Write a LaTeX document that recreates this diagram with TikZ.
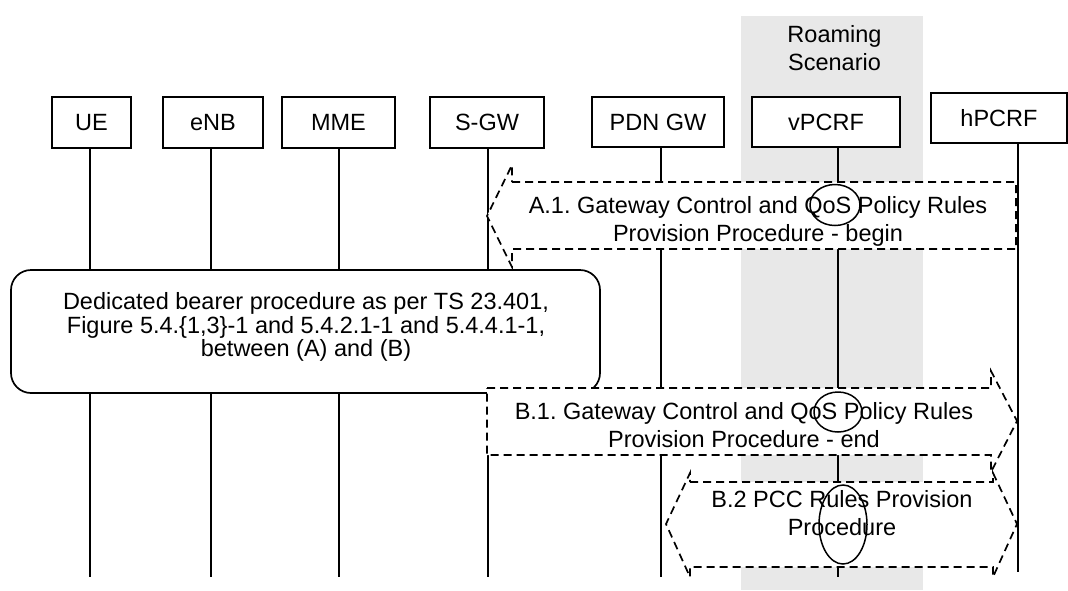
\documentclass[tikz,border=0pt]{standalone}
\usepackage{fontspec}
\setmainfont{Liberation Sans}
\usetikzlibrary{shapes.geometric}
\definecolor{bandgray}{RGB}{232,232,232}
\tikzset{
  ent/.style={draw, fill=white, line width=1.5pt, inner sep=0pt, outer sep=0pt, minimum height=51, font=\fontsize{23.5}{28}\selectfont},
  life/.style={line width=1.5pt},
  proc/.style={draw, fill=white, line width=1.7pt, dash pattern=on 8pt off 5pt, line join=miter},
  txt/.style={align=center, inner sep=0pt, font=\fontsize{23.5}{28}\selectfont},
  boxtxt/.style={align=center, inner sep=0pt, font=\fontsize{23.5}{23.5}\selectfont},
  ell/.style={draw, ellipse, line width=1.5pt, inner sep=0pt, outer sep=0pt},
  rbox/.style={draw, fill=white, line width=1.7pt, rounded corners=20pt, inner sep=0pt, outer sep=0pt}
}
\frenchspacing
\begin{document}
\begin{tikzpicture}[x=1pt,y=-1pt]
\useasboundingbox (0,0) rectangle (1068,590);
% roaming band
\fill[bandgray] (741,16) rectangle (923,590);
\node[txt] (roam) at (834.5,48) {Roaming\\Scenario};
% entities
\node[ent, minimum width=79] (ue) at (91.5,122.5) {UE};
\node[ent, minimum width=100] (enb) at (213,122.5) {eNB};
\node[ent, minimum width=113] (mme) at (338.5,122.5) {MME};
\node[ent, minimum width=114] (sgw) at (487,122.5) {S-GW};
\node[ent, minimum width=132, minimum height=50] (pgw) at (658,122) {PDN GW};
\node[ent, minimum width=148, minimum height=50] (vpcrf) at (826,122) {vPCRF};
\node[ent, minimum width=136, minimum height=50] (hpcrf) at (999,118) {hPCRF};
% lifeline ends
\coordinate (ueEnd) at (90,577);
\coordinate (enbEnd) at (211,577);
\coordinate (mmeEnd) at (339,577);
\coordinate (sgwEnd) at (488,577);
\coordinate (pgwEnd) at (661,577);
\coordinate (vpcrfEnd) at (838,577);
\coordinate (hpcrfEnd) at (1018,572);
\draw[life] (ue.south -| ueEnd) -- (ueEnd);
\draw[life] (enb.south -| enbEnd) -- (enbEnd);
\draw[life] (mme.south -| mmeEnd) -- (mmeEnd);
\draw[life] (sgw.south -| sgwEnd) -- (sgwEnd);
\draw[life] (pgw.south -| pgwEnd) -- (pgwEnd);
\draw[life] (vpcrf.south -| vpcrfEnd) -- (vpcrfEnd);
\draw[life] (hpcrf.south -| hpcrfEnd) -- (hpcrfEnd);
% dedicated bearer box
\node[rbox, minimum width=589, minimum height=123] (ded) at (305.5,331.5) {};
\node[boxtxt] (dedtxt) at (306,327) {Dedicated bearer procedure as per TS 23.401,\\Figure 5.4.\{1,3\}-1 and 5.4.2.1-1 and 5.4.4.1-1,\\between (A) and (B)};
% A.1 arrow (pointing left)
\draw[proc] (512,182) -- (1016,182) -- (1016,249) -- (512,249) -- (512,267) -- (487,216) -- (512,165) -- cycle;
\node[txt] (a1) at (758,221) {A.1. Gateway Control and QoS Policy Rules\\Provision Procedure - begin};
% B.1 arrow (pointing right)
\draw[proc] (487,388) -- (991,388) -- (991,371) -- (1017,421) -- (991,472) -- (991,455) -- (487,455) -- cycle;
\node[txt] (b1) at (744,425) {B.1. Gateway Control and QoS Policy Rules\\Provision Procedure - end};
% B.2 double arrow
\draw[proc] (690,482) -- (993,482) -- (993,473) -- (1017,524) -- (993,577) -- (993,567) -- (690,567) -- (690,577) -- (666,524) -- (690,473) -- cycle;
\node[txt] (b2) at (842,513) {B.2 PCC Rules Provision\\Procedure};
% ellipses
\node[ell, minimum width=50, minimum height=41] (e1) at (835,205) {};
\node[ell, minimum width=48, minimum height=40] (e2) at (838,412) {};
\node[ell, minimum width=48, minimum height=79] (e3) at (843,524.5) {};
\end{tikzpicture}
\end{document}
